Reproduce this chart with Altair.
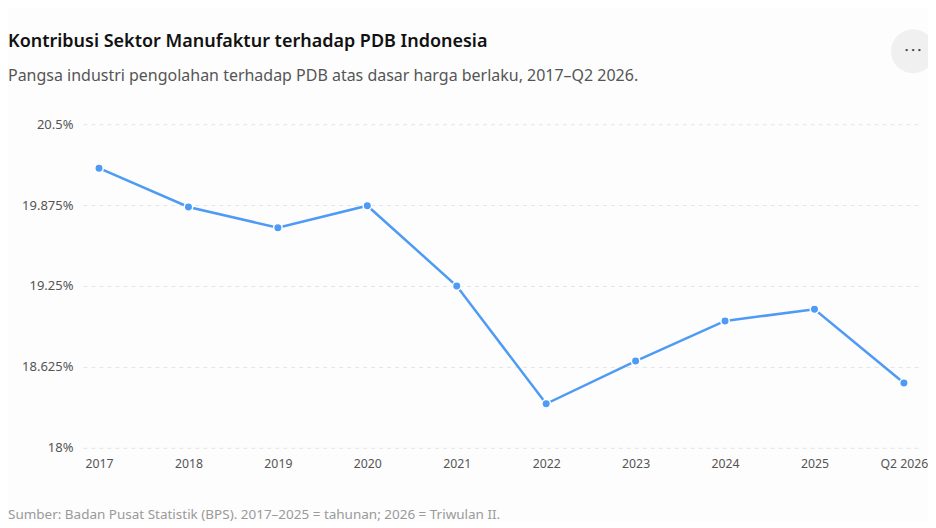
import altair as alt
import pandas as pd

periods = ["2017", "2018", "2019", "2020", "2021", "2022", "2023", "2024", "2025", "Q2 2026"]
shares = [20.16, 19.86, 19.70, 19.87, 19.25, 18.34, 18.67, 18.98, 19.07, 18.50]
y_ticks = [18, 18.625, 19.25, 19.875, 20.5]

title_text = "Kontribusi Sektor Manufaktur terhadap PDB Indonesia"
subtitle_text = "Pangsa industri pengolahan terhadap PDB atas dasar harga berlaku, 2017\u2013Q2 2026."
source_text = "Sumber: Badan Pusat Statistik (BPS). 2017\u20132025 = tahunan; 2026 = Triwulan II."

df = pd.DataFrame({"periode": periods, "pangsa": shares})

FONT = "Noto Sans"
BLUE = "#4e9bf5"
W, H = 838, 324

x = alt.X(
    "periode:O",
    sort=periods,
    scale=alt.Scale(type="point", padding=0.18),
    axis=alt.Axis(title=None, labelAngle=0, ticks=False, domain=False, grid=False,
                  labelPadding=10, labelFontSize=12.3, labelColor="#555", labelFont=FONT),
)
y = alt.Y(
    "pangsa:Q",
    scale=alt.Scale(domain=[18, 20.5], zero=False, nice=False),
    axis=alt.Axis(title=None, values=y_ticks, labelExpr="datum.value + '%'", ticks=False,
                  domain=False, grid=True, gridDash=[4, 4], gridColor="#e4e4e4",
                  labelPadding=10, labelFontSize=13, labelColor="#555", labelFont=FONT),
)

base = alt.Chart(df)
line = base.mark_line(color=BLUE, strokeWidth=2.5).encode(x=x, y=y)
points = base.mark_circle(size=72, fill=BLUE, opacity=1, stroke="white", strokeWidth=1.5).encode(
    x=x, y=y, tooltip=["periode", "pangsa"]
)

one = pd.DataFrame({"k": [0]})
title = alt.Chart(one).mark_text(text=title_text, fontSize=18, fontWeight=600, color="#111",
                                 align="left", baseline="alphabetic", font=FONT).encode(
    x=alt.value(-75), y=alt.value(-77)
)
subtitle = alt.Chart(one).mark_text(text=subtitle_text, fontSize=16, color="#555",
                                    align="left", baseline="alphabetic", font=FONT).encode(
    x=alt.value(-75), y=alt.value(-43)
)
button = alt.Chart(one).mark_circle(size=1936, fill="#f0f0f0", opacity=1).encode(
    x=alt.value(831), y=alt.value(-73)
)
dots = alt.Chart(one).mark_text(text="\u2022\u2009\u2022\u2009\u2022", fontSize=8, color="#444",
                                baseline="middle", align="center", font="DejaVu Sans").encode(
    x=alt.value(831), y=alt.value(-73)
)
source = alt.Chart(one).mark_text(text=source_text, fontSize=13.5, color="#9a9a9a", align="left",
                                  baseline="alphabetic", font=FONT).encode(
    x=alt.value(-75), y=alt.value(395)
)

chart = (
    alt.layer(line, points, title, subtitle, button, dots, source)
    .properties(
        width=W,
        height=H,
        autosize=alt.AutoSizeParams(type="none"),
        padding={"left": 75, "top": 116, "right": 8, "bottom": 74},
        background="#fdfdfd",
    )
    .configure_view(stroke=None)
)

chart.save("out.html", embed_options={"renderer": "svg", "actions": False})
